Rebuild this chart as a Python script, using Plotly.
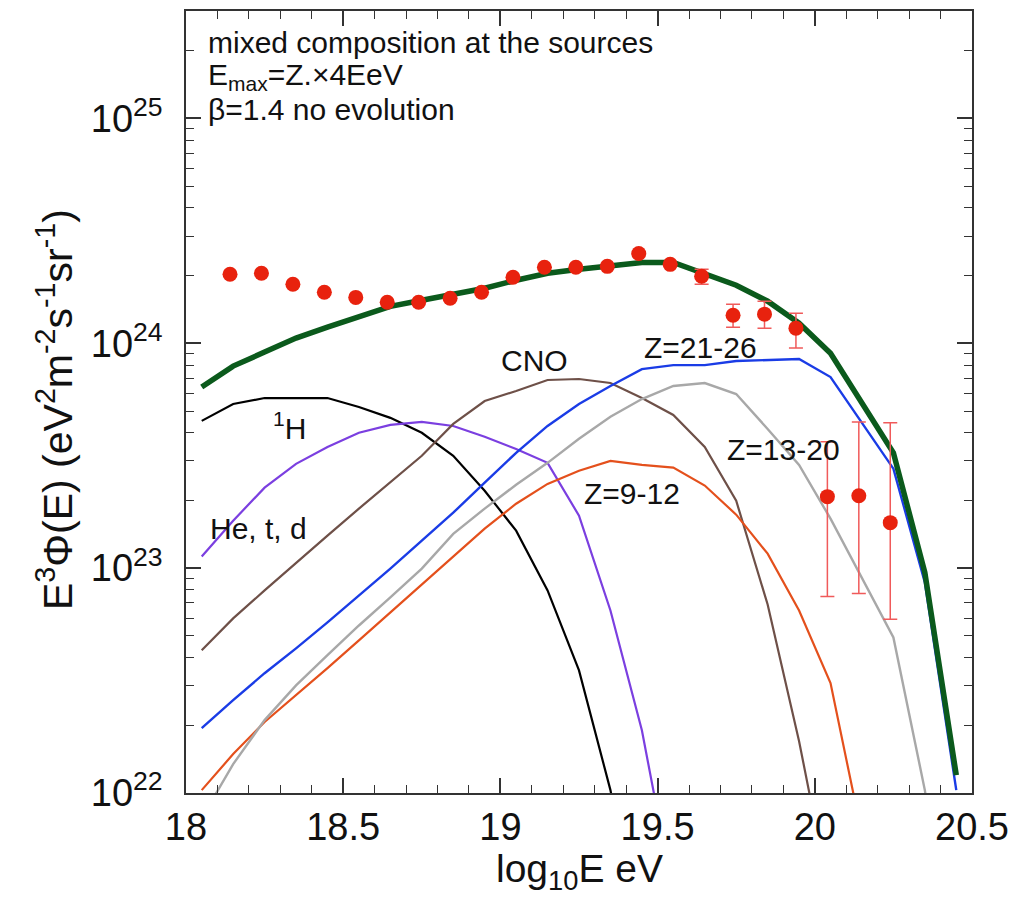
import math
import plotly.graph_objects as go

# ---- data -------------------------------------------------------------
log_e = [18.05, 18.15, 18.25, 18.35, 18.45, 18.55, 18.65, 18.75, 18.85, 18.95,
         19.05, 19.15, 19.25, 19.35, 19.45, 19.55, 19.65, 19.75, 19.85, 19.95,
         20.05, 20.15, 20.25, 20.35, 20.45]

total = [6.39e23, 7.92e23, 9.14e23, 1.055e24, 1.18e24, 1.32e24, 1.46e24, 1.555e24, 1.653e24, 1.758e24,
         1.908e24, 2.049e24, 2.135e24, 2.20e24, 2.29e24, 2.29e24, 2.05e24, 1.813e24, 1.539e24, 1.229e24,
         9.04e23, 5.37e23, 3.26e23, 9.56e22, 1.20e22]

proton = [4.52e23, 5.37e23, 5.71e23, 5.71e23, 5.71e23, 5.21e23, 4.66e23, 4.00e23, 3.16e23, 2.21e23,
          1.468e23, 7.96e22, 3.51e22, 1.03e22, 2.01e21]

helium = [1.126e23, 1.626e23, 2.28e23, 2.91e23, 3.46e23, 4.00e23, 4.34e23, 4.47e23, 4.29e23, 3.84e23,
          3.39e23, 2.94e23, 1.712e23, 6.48e22, 1.90e22, 3.53e21]

cno = [4.31e22, 5.98e22, 7.96e22, 1.059e23, 1.395e23, 1.84e23, 2.40e23, 3.16e23, 4.38e23, 5.54e23,
       6.14e23, 6.87e23, 6.94e23, 6.66e23, 5.71e23, 4.80e23, 3.46e23, 1.995e23, 6.89e22, 1.70e22,
       3.35e21]

z9_12 = [1.03e22, 1.49e22, 2.07e22, 2.72e22, 3.59e22, 4.77e22, 6.35e22, 8.46e22, 1.126e23, 1.499e23,
         1.935e23, 2.37e23, 2.71e23, 3.00e23, 2.88e23, 2.80e23, 2.33e23, 1.73e23, 1.16e23, 6.48e22,
         3.08e22, 6.51e21]

z13_20 = [7.74e21, 1.345e22, 2.11e22, 3.01e22, 4.10e22, 5.56e22, 7.41e22, 9.96e22, 1.42e23, 1.84e23,
          2.35e23, 2.94e23, 3.76e23, 4.71e23, 5.65e23, 6.46e23, 6.66e23, 5.95e23, 4.16e23, 2.88e23,
          1.66e23, 8.99e22, 4.92e22, 1.03e22, 1.2e21]

z21_26 = [1.943e22, 2.59e22, 3.41e22, 4.40e22, 5.74e22, 7.56e22, 9.96e22, 1.326e23, 1.765e23, 2.40e23,
          3.26e23, 4.29e23, 5.37e23, 6.46e23, 7.68e23, 8.00e23, 8.00e23, 8.34e23, 8.42e23, 8.51e23,
          7.08e23, 4.43e23, 2.77e23, 8.63e22, 1.03e22]

data_x = [18.14, 18.24, 18.34, 18.44, 18.54, 18.64, 18.74, 18.84, 18.94, 19.04, 19.14,
          19.24, 19.34, 19.44, 19.54, 19.64, 19.74, 19.84, 19.94, 20.04, 20.14, 20.24]
data_y = [2.03e24, 2.05e24, 1.83e24, 1.687e24, 1.60e24, 1.523e24, 1.523e24, 1.587e24, 1.687e24, 1.966e24,
          2.18e24, 2.18e24, 2.20e24, 2.51e24, 2.245e24, 1.987e24, 1.334e24, 1.348e24, 1.168e24,
          2.08e23, 2.10e23, 1.594e23]
data_hi = [2.03e24, 2.05e24, 1.83e24, 1.687e24, 1.60e24, 1.523e24, 1.523e24, 1.587e24, 1.687e24, 1.966e24,
           2.18e24, 2.18e24, 2.20e24, 2.51e24, 2.245e24, 2.135e24, 1.492e24, 1.539e24, 1.361e24,
           3.65e23, 4.47e23, 4.43e23]
data_lo = [2.03e24, 2.05e24, 1.83e24, 1.687e24, 1.60e24, 1.523e24, 1.523e24, 1.587e24, 1.687e24, 1.966e24,
           2.18e24, 2.18e24, 2.20e24, 2.51e24, 2.245e24, 1.83e24, 1.18e24, 1.168e24, 9.52e23,
           7.48e22, 7.71e22, 5.92e22]

y_ticks = [1e22, 1e23, 1e24, 1e25]
y_tick_text = ["10<sup>22</sup>", "10<sup>23</sup>", "10<sup>24</sup>", "10<sup>25</sup>"]
x_ticks = [18, 18.5, 19, 19.5, 20, 20.5]
x_tick_text = ["18", "18.5", "19", "19.5", "20", "20.5"]

# header lines: (x, y value, text)
header = [
    (18.065, 2.17e25, "mixed composition at the sources"),
    (18.065, 1.53e25, "E<sub>max</sub>=Z.×4EeV"),
    (18.065, 1.095e25, "β=1.4 no evolution"),
]
# curve labels: (x, y value, text)
curve_labels = [
    (18.33, 4.30e23, "<sup>1</sup>H"),
    (18.23, 1.50e23, "He, t, d"),
    (19.11, 8.40e23, "CNO"),
    (19.635, 9.6e23, "Z=21-26"),
    (19.90, 3.36e23, "Z=13-20"),
    (19.42, 2.14e23, "Z=9-12"),
]

# ---- figure -----------------------------------------------------------
FONT = "Liberation Sans, Arial, Helvetica, sans-serif"
fig = go.Figure()

def add_line(y, color, width):
    fig.add_trace(go.Scatter(x=log_e[:len(y)], y=y, mode="lines",
                             line=dict(color=color, width=width), showlegend=False,
                             hoverinfo="skip"))

add_line(proton, "#000000", 2.2)
add_line(helium, "#7b3fe0", 2.2)
add_line(cno, "#6e5048", 2.2)
add_line(z9_12, "#e4501c", 2.2)
add_line(z13_20, "#a8a8a8", 2.4)
add_line(z21_26, "#1a3ce6", 2.4)
add_line(total, "#0b5a1c", 5.5)

fig.add_trace(go.Scatter(
    x=data_x, y=data_y, mode="markers",
    marker=dict(color="#e8220e", size=15, line=dict(width=0)),
    error_y=dict(type="data", symmetric=False,
                 array=[h - v for h, v in zip(data_hi, data_y)],
                 arrayminus=[v - l for v, l in zip(data_y, data_lo)],
                 color="#f05a5a", thickness=1.5, width=7),
    showlegend=False))

annotations = [
    dict(x=lx, y=math.log10(ly), text=t, xanchor="left", yanchor="middle",
         showarrow=False, font=dict(family=FONT, size=30, color="#111111"))
    for lx, ly, t in header
]
annotations += [
    dict(x=lx, y=math.log10(ly), text=t, xanchor="center", yanchor="middle",
         showarrow=False, font=dict(family=FONT, size=30, color="#111111"))
    for lx, ly, t in curve_labels
]
annotations.append(
    dict(x=0, y=0.5, xref="paper", yref="paper", xshift=-131, yshift=-8, textangle=-90,
         text="E<sup>3</sup>Φ(E) (eV<sup>2</sup>m<sup>-2</sup>s<sup>-1</sup>sr<sup>-1</sup>)",
         showarrow=False, xanchor="center", yanchor="middle",
         font=dict(family=FONT, size=41, color="#111111")))
annotations.append(
    dict(x=0.5, y=0, xref="paper", yref="paper", yshift=-78,
         text="log<sub>10</sub>E eV", showarrow=False, xanchor="center", yanchor="middle",
         font=dict(family=FONT, size=39, color="#111111")))

axis_common = dict(showline=True, linecolor="#333333", linewidth=1.5, mirror="allticks",
                   ticks="inside", tickcolor="#333333", tickwidth=1.5, showgrid=False,
                   zeroline=False)

fig.update_layout(
    width=1036, height=906,
    margin=dict(l=186, r=64, t=9, b=113),
    paper_bgcolor="white", plot_bgcolor="white",
    font=dict(family=FONT, color="#111111"),
    annotations=annotations,
    xaxis=dict(range=[18, 20.5], tickvals=x_ticks, ticktext=x_tick_text, ticklen=15,
               tickfont=dict(family=FONT, size=38, color="#111111"),
               minor=dict(dtick=0.1, ticks="inside", ticklen=8, tickcolor="#333333", tickwidth=1.3),
               **axis_common),
    yaxis=dict(type="log", range=[22, 25.478], tickvals=y_ticks, ticktext=y_tick_text, ticklen=15,
               tickfont=dict(family=FONT, size=38, color="#111111"), ticklabelstandoff=14,
               minor=dict(dtick="D1", ticks="inside", ticklen=8, tickcolor="#333333", tickwidth=1.3),
               **axis_common),
)

fig.write_html("out.html")
